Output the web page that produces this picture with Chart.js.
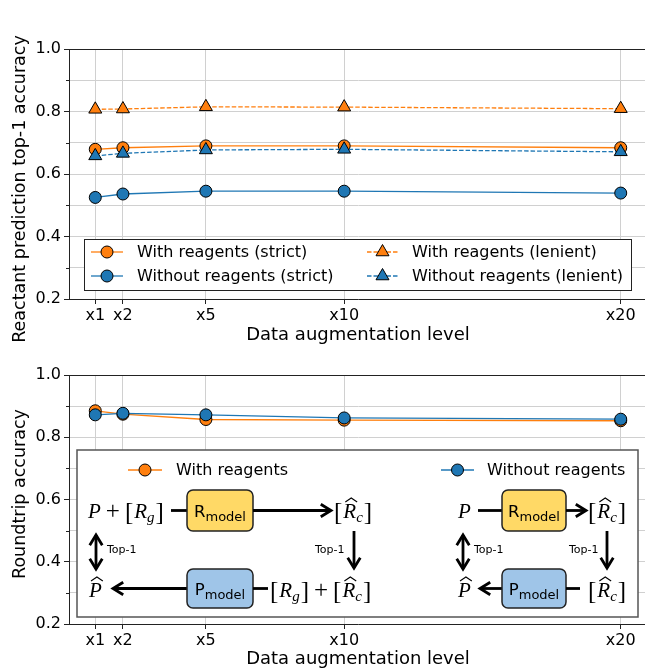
<!DOCTYPE html>
<html><head><meta charset="utf-8">
<script src="https://cdn.jsdelivr.net/npm/chart.js@4.4.0/dist/chart.umd.min.js"></script>
<style>
html,body{margin:0;padding:0;background:#fff;overflow:hidden;}
#wrap{position:relative;width:645px;height:669px;overflow:hidden;background:#fff;}
#c1{position:absolute;left:0;top:0;}
#c2{position:absolute;left:0;top:345px;}
</style></head><body>
<div id="wrap"><canvas id="c1" width="660" height="345"></canvas><canvas id="c2" width="660" height="324"></canvas></div>
<script>
// ---- data ----
const augLevels = [1, 2, 5, 10, 20];
const augLabels = ['x1', 'x2', 'x5', 'x10', 'x20'];
const withStrict     = [0.679, 0.684, 0.690, 0.690, 0.684];
const withoutStrict  = [0.525, 0.536, 0.545, 0.545, 0.539];
const withLenient    = [0.807, 0.808, 0.815, 0.814, 0.809];
const withoutLenient = [0.658, 0.666, 0.677, 0.679, 0.671];
const rtWith    = [0.885, 0.874, 0.857, 0.855, 0.853];
const rtWithout = [0.872, 0.877, 0.872, 0.862, 0.858];
const yMajorTicks = [0.2, 0.4, 0.6, 0.8, 1.0];
const yMinorTicks = [0.3, 0.5, 0.7, 0.9];

const ORANGE = '#ff7f0e', BLUE = '#1f77b4';
Chart.defaults.font.family = '"DejaVu Sans", sans-serif';
Chart.defaults.color = '#000';

const pts = arr => arr.map((v, i) => ({x: augLevels[i], y: v}));
const CIRC_R = 6, TRI_R = 7.5;

function ds(label, arr, color, style, dashed, order) {
  const r = style === 'triangle' ? TRI_R : CIRC_R;
  return {
    label, data: pts(arr), borderColor: color, backgroundColor: color,
    pointBackgroundColor: color, pointBorderColor: '#000', pointBorderWidth: 1,
    pointStyle: style, pointRadius: r, pointHoverRadius: r,
    borderWidth: 1.3, borderDash: dashed ? [4.5, 2] : [], tension: 0, order
  };
}

function drawMarker(ctx, style, x, y, r, color) {
  ctx.save();
  ctx.fillStyle = color; ctx.strokeStyle = '#000'; ctx.lineWidth = 1; ctx.setLineDash([]);
  ctx.beginPath();
  if (style === 'triangle') {
    let a = 0;
    ctx.moveTo(x + Math.sin(a) * r, y - Math.cos(a) * r);
    a += 2 * Math.PI / 3;
    ctx.lineTo(x + Math.sin(a) * r, y - Math.cos(a) * r);
    a += 2 * Math.PI / 3;
    ctx.lineTo(x + Math.sin(a) * r, y - Math.cos(a) * r);
    ctx.closePath();
  } else {
    ctx.arc(x, y, r, 0, Math.PI * 2);
  }
  ctx.fill(); ctx.stroke();
  ctx.restore();
}

function drawSample(ctx, x1, x2, y, color, dashed, style, r) {
  ctx.save();
  ctx.strokeStyle = color; ctx.lineWidth = 1.3;
  ctx.setLineDash(dashed ? [4.5, 2] : []);
  ctx.beginPath(); ctx.moveTo(x1, y); ctx.lineTo(x2, y); ctx.stroke();
  ctx.restore();
  drawMarker(ctx, style, (x1 + x2) / 2, y, r, color);
}

function scales(xHeight) {
  return {
    x: {
      type: 'linear', min: 0.05, max: 20.95,
      afterBuildTicks: s => { s.ticks = augLevels.map(v => ({value: v})); },
      afterFit: s => { s.height = xHeight; },
      ticks: { autoSkip: false, maxRotation: 0, padding: 2, font: {size: 16}, color: '#000',
        callback: v => { const i = augLevels.indexOf(v); return i >= 0 ? augLabels[i] : ''; } },
      grid: { color: '#d0d0d0', lineWidth: 1, tickLength: 5, tickColor: '#222' },
      border: { color: '#222', width: 1 },
      title: { display: true, text: 'Data augmentation level', font: {size: 18}, color: '#000', padding: {top: 0, bottom: -1} }
    },
    y: {
      min: 0.2, max: 1.0,
      afterFit: s => { s.width = 69; },
      ticks: { stepSize: 0.1, padding: 3, font: {size: 16}, color: '#000',
        callback: v => { const r = Math.round(v * 10); return r % 2 === 0 ? (r / 10).toFixed(1) : ''; } },
      grid: { color: '#d0d0d0', lineWidth: 1, tickLength: 5,
        tickColor: c => (c.tick && Math.round(c.tick.value * 10) % 2 === 0) ? '#222' : 'rgba(0,0,0,0)' },
      border: { color: '#222', width: 1 }
    }
  };
}

// frame (top spine), minor y ticks and the rotated y-axis title
const framePlugin = {
  id: 'frame',
  afterDraw(chart, args, opts) {
    const {ctx, chartArea: a} = chart;
    const ys = chart.scales.y;
    ctx.save();
    ctx.strokeStyle = '#222'; ctx.lineWidth = 1;
    ctx.beginPath();
    ctx.moveTo(a.left, Math.round(a.top) + 0.5); ctx.lineTo(a.right, Math.round(a.top) + 0.5);
    ctx.stroke();
    yMinorTicks.forEach(v => {
      const y = Math.round(ys.getPixelForValue(v)) + 0.5;
      ctx.beginPath(); ctx.moveTo(a.left - 3, y); ctx.lineTo(a.left, y); ctx.stroke();
    });
    ctx.translate(opts.x, opts.y);
    ctx.rotate(-Math.PI / 2);
    ctx.font = '17.5px "DejaVu Sans"'; ctx.fillStyle = '#000';
    ctx.textAlign = 'center'; ctx.textBaseline = 'middle';
    ctx.fillText(opts.text, 0, 0);
    ctx.restore();
  }
};

const topLegend = {
  id: 'topLegend',
  afterDatasetsDraw(chart) {
    const ctx = chart.ctx;
    const d = chart.data.datasets;
    ctx.save();
    ctx.fillStyle = '#fff'; ctx.strokeStyle = '#222'; ctx.lineWidth = 1;
    ctx.fillRect(84.5, 239.5, 547, 51); ctx.strokeRect(84.5, 239.5, 547, 51);
    ctx.font = '16px "DejaVu Sans"'; ctx.textBaseline = 'middle'; ctx.fillStyle = '#000';
    const items = [
      [d[0], 91, 123, 252, 137], [d[1], 91, 123, 276, 137],
      [d[2], 367, 398, 252, 412], [d[3], 367, 398, 276, 412]
    ];
    items.forEach(([s, x1, x2, y, tx]) => {
      drawSample(ctx, x1, x2, y, s.borderColor, s.borderDash.length > 0, s.pointStyle, s.pointRadius);
      ctx.fillStyle = '#000';
      ctx.fillText(s.label, tx, y + 1);
    });
    ctx.restore();
  }
};

new Chart(document.getElementById('c1'), {
  type: 'line',
  data: { datasets: [
    ds('With reagents (strict)', withStrict, ORANGE, 'circle', false, 4),
    ds('Without reagents (strict)', withoutStrict, BLUE, 'circle', false, 3),
    ds('With reagents (lenient)', withLenient, ORANGE, 'triangle', true, 2),
    ds('Without reagents (lenient)', withoutLenient, BLUE, 'triangle', true, 1)
  ]},
  options: {
    responsive: false, animation: false, devicePixelRatio: 1,
    layout: { padding: {top: 49, right: 13, left: 0, bottom: 0} },
    plugins: { legend: {display: false}, tooltip: {enabled: false},
      frame: { text: 'Reactant prediction top-1 accuracy', x: 20, y: 189 } },
    scales: scales(46)
  },
  plugins: [framePlugin, topLegend]
});

// ---- diagram helpers (page coordinates) ----
const MI = 'italic 21px "Liberation Serif"';
const MR = '25px "Liberation Serif"';
const BR = '25px "Liberation Serif"';
const SUB = 'italic 15px "Liberation Serif"';

function hat(ctx, x, w, yb) {
  ctx.save(); ctx.strokeStyle = '#000'; ctx.lineWidth = 1.1; ctx.lineJoin = 'miter';
  ctx.beginPath(); ctx.moveTo(x, yb); ctx.lineTo(x + w / 2, yb - 4); ctx.lineTo(x + w, yb); ctx.stroke();
  ctx.restore();
}
function seq(ctx, x, base, parts) {
  ctx.textBaseline = 'alphabetic'; ctx.textAlign = 'left'; ctx.fillStyle = '#000';
  for (const p of parts) {
    x += p.pre || 0;
    ctx.font = p.f;
    ctx.fillText(p.t, x, base + (p.dy || 0));
    const w = ctx.measureText(p.t).width;
    if (p.hat) hat(ctx, x + 2, w - 1, base - 16);
    x += w + (p.post || 0);
  }
  return x;
}
const Rc = [{t: '[', f: BR, dy: 2}, {t: 'R', f: MI, pre: 1, hat: true}, {t: 'c', f: SUB, dy: 4}, {t: ']', f: BR, dy: 2, pre: 1}];
const Rg = [{t: '[', f: BR, dy: 2}, {t: 'R', f: MI, pre: 1}, {t: 'g', f: SUB, dy: 4}, {t: ']', f: BR, dy: 2, pre: 1}];
const PLUS = {t: '+', f: MR, pre: 5, post: 5, dy: 1};

function line(ctx, x1, y1, x2, y2) {
  ctx.beginPath(); ctx.moveTo(x1, y1); ctx.lineTo(x2, y2); ctx.stroke();
}
function head(ctx, x, y, ang) {
  const L = 12, a = 0.55;
  ctx.beginPath();
  ctx.moveTo(x - L * Math.cos(ang - a), y - L * Math.sin(ang - a));
  ctx.lineTo(x, y);
  ctx.lineTo(x - L * Math.cos(ang + a), y - L * Math.sin(ang + a));
  ctx.stroke();
}
function arrow(ctx, x1, y1, x2, y2, both) {
  ctx.save(); ctx.strokeStyle = '#000'; ctx.lineWidth = 2.8; ctx.lineJoin = 'miter'; ctx.lineCap = 'butt';
  line(ctx, x1, y1, x2, y2);
  const ang = Math.atan2(y2 - y1, x2 - x1);
  head(ctx, x2, y2, ang);
  if (both) head(ctx, x1, y1, ang + Math.PI);
  ctx.restore();
}
function plain(ctx, x1, x2, y) {
  ctx.save(); ctx.strokeStyle = '#000'; ctx.lineWidth = 2.8; line(ctx, x1, y, x2, y); ctx.restore();
}
function modelBox(ctx, x, y, w, h, fill, letter) {
  ctx.save();
  ctx.fillStyle = fill; ctx.strokeStyle = '#222'; ctx.lineWidth = 1.5;
  ctx.beginPath(); ctx.roundRect(x, y, w, h, 6); ctx.fill(); ctx.stroke();
  ctx.fillStyle = '#000'; ctx.textBaseline = 'alphabetic'; ctx.textAlign = 'left';
  ctx.font = '16.5px "DejaVu Sans"'; const w1 = ctx.measureText(letter).width;
  ctx.font = '13px "DejaVu Sans"'; const w2 = ctx.measureText('model').width;
  const sx = x + (w - w1 - w2) / 2, cy = y + h / 2;
  ctx.font = '16.5px "DejaVu Sans"'; ctx.fillText(letter, sx, cy + 6.5);
  ctx.font = '13px "DejaVu Sans"'; ctx.fillText('model', sx + w1, cy + 10);
  ctx.restore();
}
function top1(ctx, x, y) {
  ctx.save(); ctx.font = '11px "DejaVu Sans"'; ctx.fillStyle = '#000';
  ctx.textBaseline = 'middle'; ctx.textAlign = 'left'; ctx.fillText('Top-1', x, y); ctx.restore();
}

const bottomPlugin = {
  id: 'bottomInset',
  beforeDatasetsDraw(chart) {
    const ctx = chart.ctx;
    ctx.save();
    ctx.translate(0, -345);
    // inset box
    ctx.fillStyle = '#fff'; ctx.strokeStyle = '#555'; ctx.lineWidth = 1.5;
    ctx.fillRect(77, 450, 561, 167); ctx.strokeRect(77, 450, 561, 167);
    // legend
    const d = chart.data.datasets;
    drawSample(ctx, 128, 162, 470, d[0].borderColor, false, 'circle', CIRC_R);
    drawSample(ctx, 441, 474, 470, d[1].borderColor, false, 'circle', CIRC_R);
    ctx.font = '16px "DejaVu Sans"'; ctx.fillStyle = '#000'; ctx.textBaseline = 'middle';
    ctx.fillText(d[0].label, 176, 471);
    ctx.fillText(d[1].label, 487, 471);
    // ---- left scheme (with reagents) ----
    const yT = 510.5, yB = 588.5, bT = 518, bB = 597;
    seq(ctx, 88, bT, [{t: 'P', f: MI}, PLUS, ...Rg]);
    plain(ctx, 171, 187, yT);
    modelBox(ctx, 187, 490, 66, 41, '#ffd966', 'R');
    arrow(ctx, 253, yT, 331, yT);
    seq(ctx, 334, bT, Rc);
    arrow(ctx, 354, 531, 354, 568);
    top1(ctx, 315, 550);
    arrow(ctx, 96, 535, 96, 569, true);
    top1(ctx, 107, 550);
    seq(ctx, 89, bB, [{t: 'P', f: MI, hat: true}]);
    arrow(ctx, 187, yB, 113, yB);
    modelBox(ctx, 187, 569, 66, 39, '#9fc5e8', 'P');
    plain(ctx, 253, 268, yB);
    seq(ctx, 270, bB, [...Rg, PLUS, ...Rc]);
    // ---- right scheme (without reagents) ----
    seq(ctx, 458, bT, [{t: 'P', f: MI}]);
    plain(ctx, 478, 502, yT);
    modelBox(ctx, 502, 490, 64, 41, '#ffd966', 'R');
    arrow(ctx, 566, yT, 586, yT);
    seq(ctx, 588, bT, Rc);
    arrow(ctx, 607, 531, 607, 568);
    top1(ctx, 569, 550);
    arrow(ctx, 463, 535, 463, 569, true);
    top1(ctx, 474, 550);
    seq(ctx, 458, bB, [{t: 'P', f: MI, hat: true}]);
    arrow(ctx, 502, yB, 480, yB);
    modelBox(ctx, 502, 569, 64, 39, '#9fc5e8', 'P');
    plain(ctx, 566, 580, yB);
    seq(ctx, 588, bB, Rc);
    ctx.restore();
  }
};

new Chart(document.getElementById('c2'), {
  type: 'line',
  data: { datasets: [
    ds('With reagents', rtWith, ORANGE, 'circle', false, 2),
    ds('Without reagents', rtWithout, BLUE, 'circle', false, 1)
  ]},
  options: {
    responsive: false, animation: false, devicePixelRatio: 1,
    layout: { padding: {top: 30, right: 13, left: 0, bottom: 0} },
    plugins: { legend: {display: false}, tooltip: {enabled: false},
      frame: { text: 'Roundtrip accuracy', x: 20, y: 149 } },
    scales: scales(45)
  },
  plugins: [framePlugin, bottomPlugin]
});
</script>
</body></html>
